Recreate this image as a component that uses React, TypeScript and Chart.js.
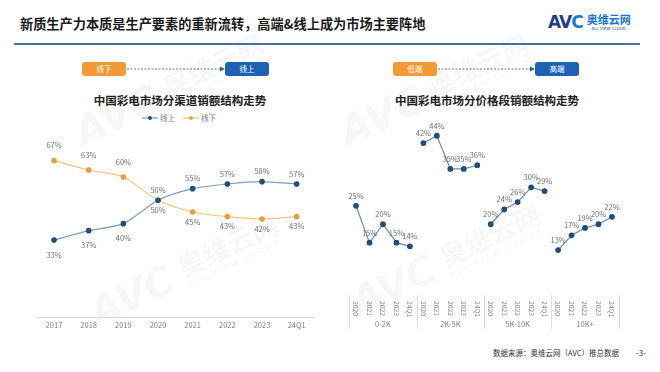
import React, { useEffect, useRef } from "react";
import { Chart, registerables } from "chart.js";
Chart.register(...registerables);

const FONT = '"Noto Sans CJK SC", "Microsoft YaHei", sans-serif';

// Left chart: channel structure
const channelYears = ["2017", "2018", "2019", "2020", "2021", "2022", "2023", "24Q1"];
const onlineShare = [33, 37, 40, 50, 55, 57, 58, 57];
const offlineShare = [67, 63, 60, 50, 45, 43, 42, 43];

// Right chart: price segment structure
const priceYears = ["2020", "2021", "2022", "2023", "24Q1"];
const priceSegments = ["0-2K", "2K-5K", "5K-10K", "10K+"];
const seg0to2k = [25, 15, 20, 15, 14];
const seg2kto5k = [42, 44, 35, 35, 36];
const seg5kto10k = [20, 24, 26, 30, 29];
const seg10kPlus = [13, 17, 19, 20, 22];
const segValues = [seg0to2k, seg2kto5k, seg5kto10k, seg10kPlus];

const LINE_BLUE = "#7f9dbd";
const DOT_BLUE = "#1f4e79";
const LINE_ORANGE = "#f3c57a";
const DOT_ORANGE = "#e2a23a";

function Watermark({ left, top }: { left: number; top: number }) {
  const c = "rgba(0,0,0,0.05)";
  return (
    <div
      style={{
        position: "absolute",
        left,
        top,
        transform: "rotate(-25deg)",
        transformOrigin: "left bottom",
        whiteSpace: "nowrap",
        color: c,
        fontFamily: FONT,
        pointerEvents: "none",
        display: "flex",
        alignItems: "flex-end",
      }}
    >
      <span style={{ fontSize: 40, fontWeight: 900, fontStyle: "italic", fontFamily: "DejaVu Sans", lineHeight: "40px" }}>
        AVC
      </span>
      <span style={{ display: "inline-block", marginLeft: 10 }}>
        <div style={{ fontSize: 27, fontWeight: 700, lineHeight: "30px" }}>奥维云网</div>
        <div style={{ fontSize: 8, fontWeight: 700, letterSpacing: 2, fontFamily: "DejaVu Sans", lineHeight: "10px" }}>
          ALL VIEW CLOUD
        </div>
      </span>
    </div>
  );
}

function Box({ left, text, color }: { left: number; text: string; color: string }) {
  return (
    <div
      style={{
        position: "absolute",
        left,
        top: 62,
        width: 44,
        height: 14,
        background: color,
        borderRadius: 3,
        color: "#fff",
        fontSize: 7.5,
        lineHeight: "14px",
        textAlign: "center",
        fontFamily: FONT,
      }}
    >
      {text}
    </div>
  );
}

function Arrow({ left, width }: { left: number; width: number }) {
  return (
    <svg style={{ position: "absolute", left, top: 64 }} width={width} height={10}>
      <line x1={1} y1={5} x2={width - 4} y2={5} stroke="#5a7a9c" strokeWidth={1} strokeDasharray="2 1.5" />
      <polygon points={`${width - 5},2.5 ${width},5 ${width - 5},7.5`} fill="#3d5f86" />
    </svg>
  );
}

export default function App() {
  const leftRef = useRef<HTMLCanvasElement>(null);
  const rightRef = useRef<HTMLCanvasElement>(null);

  useEffect(() => {
    document.body.style.margin = "0";

    const leftLabels = {
      id: "leftLabels",
      afterDatasetsDraw(chart: any) {
        const ctx = chart.ctx;
        ctx.save();
        ctx.font = `7.5px ${FONT}`;
        ctx.fillStyle = "#707070";
        ctx.textAlign = "center";
        ctx.textBaseline = "middle";
        chart.data.datasets.forEach((ds: any, di: number) => {
          const meta = chart.getDatasetMeta(di);
          const other = chart.data.datasets[1 - di].data;
          meta.data.forEach((pt: any, i: number) => {
            const v = ds.data[i];
            const o = other[i];
            const above = v > o || (v === o && di === 0);
            const off = i < 3 ? 15 : 10;
            ctx.fillText(`${v}%`, pt.x, pt.y + (above ? -off : off));
          });
        });
        ctx.restore();
      },
    };

    const left = new Chart(leftRef.current!, {
      type: "line",
      data: {
        labels: channelYears,
        datasets: [
          {
            label: "线上",
            data: onlineShare,
            borderColor: LINE_BLUE,
            backgroundColor: DOT_BLUE,
            pointBackgroundColor: DOT_BLUE,
            pointBorderColor: DOT_BLUE,
            pointRadius: 2.2,
            borderWidth: 1.2,
            tension: 0.25,
            clip: false as any,
          },
          {
            label: "线下",
            data: offlineShare,
            borderColor: LINE_ORANGE,
            backgroundColor: DOT_ORANGE,
            pointBackgroundColor: DOT_ORANGE,
            pointBorderColor: DOT_ORANGE,
            pointRadius: 2.2,
            borderWidth: 1.2,
            tension: 0.25,
            clip: false as any,
          },
        ],
      },
      options: {
        animation: false,
        responsive: false,
        maintainAspectRatio: false,
        layout: { padding: { left: 6.7, right: 11, top: 10.3, bottom: 0 } },
        plugins: { legend: { display: false }, tooltip: { enabled: false } },
        scales: {
          x: {
            offset: true,
            grid: { display: false, drawTicks: false },
            border: { display: true, color: "#d9d9d9", width: 1 },
            ticks: { color: "#808080", font: { size: 7.5, family: FONT }, padding: 4, maxRotation: 0, autoSkip: false },
            afterFit: (s: any) => {
              s.height = 23;
            },
          },
          y: { display: false, min: 0, max: 80 },
        },
      },
      plugins: [leftLabels],
    });

    const total = priceSegments.length * priceYears.length;
    const rightLabels: string[] = [];
    priceSegments.forEach((seg) => priceYears.forEach((y) => rightLabels.push(`${seg} ${y}`)));
    const rightDatasets = segValues.map((vals, si) => {
      const data: (number | null)[] = new Array(total).fill(null);
      vals.forEach((v, k) => {
        data[si * priceYears.length + k] = v;
      });
      return {
        label: priceSegments[si],
        data,
        borderColor: "#6f8cab",
        backgroundColor: DOT_BLUE,
        pointBackgroundColor: DOT_BLUE,
        pointBorderColor: DOT_BLUE,
        pointRadius: 2.3,
        borderWidth: 1.2,
        tension: 0,
        spanGaps: false,
        clip: false as any,
      };
    });

    const rightDecor = {
      id: "rightDecor",
      afterDatasetsDraw(chart: any) {
        const ctx = chart.ctx;
        const xs = chart.scales.x;
        const bottom = chart.chartArea.bottom;
        ctx.save();
        ctx.font = `7.5px ${FONT}`;
        ctx.fillStyle = "#707070";
        ctx.textAlign = "center";
        ctx.textBaseline = "middle";
        chart.data.datasets.forEach((ds: any, di: number) => {
          const meta = chart.getDatasetMeta(di);
          meta.data.forEach((pt: any, i: number) => {
            const v = ds.data[i];
            if (v == null) return;
            ctx.fillText(`${v}%`, pt.x, pt.y - 10);
          });
        });
        ctx.font = `6.8px ${FONT}`;
        ctx.fillStyle = "#888";
        ctx.textAlign = "left";
        ctx.textBaseline = "middle";
        for (let i = 0; i < total; i++) {
          const x = xs.getPixelForValue(i);
          ctx.save();
          ctx.translate(x, bottom + 3);
          ctx.rotate(Math.PI / 2);
          ctx.fillText(priceYears[i % priceYears.length], 0, 0);
          ctx.restore();
        }
        const step = xs.getPixelForValue(1) - xs.getPixelForValue(0);
        ctx.strokeStyle = "#dcdcdc";
        ctx.lineWidth = 1;
        for (let g = 0; g <= priceSegments.length; g++) {
          const x = Math.round(xs.getPixelForValue(g * priceYears.length) - step / 2) + 0.5;
          ctx.beginPath();
          ctx.moveTo(x, bottom - 3);
          ctx.lineTo(x, bottom + 31);
          ctx.stroke();
        }
        ctx.font = `7.5px ${FONT}`;
        ctx.fillStyle = "#808080";
        ctx.textAlign = "center";
        priceSegments.forEach((seg, g) => {
          const a = xs.getPixelForValue(g * priceYears.length);
          const b = xs.getPixelForValue(g * priceYears.length + priceYears.length - 1);
          ctx.fillText(seg, (a + b) / 2, bottom + 26);
        });
        ctx.restore();
      },
    };

    const right = new Chart(rightRef.current!, {
      type: "line",
      data: { labels: rightLabels, datasets: rightDatasets as any },
      options: {
        animation: false,
        responsive: false,
        maintainAspectRatio: false,
        layout: { padding: { left: 14.3, right: 16.3, top: 8.6, bottom: 0 } },
        plugins: { legend: { display: false }, tooltip: { enabled: false } },
        scales: {
          x: {
            offset: true,
            grid: { display: false, drawTicks: false },
            border: { display: false },
            ticks: { display: false },
            afterFit: (s: any) => {
              s.height = 42;
            },
          },
          y: { display: false, min: 0, max: 50 },
        },
      },
      plugins: [rightDecor],
    });

    return () => {
      left.destroy();
      right.destroy();
    };
  }, []);

  return (
    <div
      style={{
        position: "fixed",
        left: 0,
        top: 0,
        width: 660,
        height: 372,
        background: "#fff",
        overflow: "hidden",
        fontFamily: FONT,
      }}
    >
      <Watermark left={85} top={112} />
      <Watermark left={100} top={292} />
      <Watermark left={350} top={112} />
      <Watermark left={362} top={282} />

      <div
        style={{
          position: "absolute",
          left: 20,
          top: 14,
          fontSize: 13.2,
          fontWeight: 700,
          color: "#1a1a1a",
          lineHeight: "20px",
          whiteSpace: "nowrap",
        }}
      >
        新质生产力本质是生产要素的重新流转，高端&amp;线上成为市场主要阵地
      </div>
      <div style={{ position: "absolute", left: 548, top: 12, whiteSpace: "nowrap" }}>
        <span
          style={{
            fontFamily: "DejaVu Sans",
            fontWeight: 900,
            fontSize: 17,
            letterSpacing: -1,
            color: "#1d3e8c",
            verticalAlign: "top",
            lineHeight: "20px",
          }}
        >
          AV<span style={{ color: "#1a76d2" }}>C</span>
        </span>
        <span style={{ display: "inline-block", marginLeft: 4, verticalAlign: "top" }}>
          <div style={{ fontSize: 11, fontWeight: 700, color: "#1a76d2", lineHeight: "14px" }}>奥维云网</div>
          <div style={{ fontSize: 4, color: "#1d3e8c", lineHeight: "5px", textAlign: "center", fontFamily: "DejaVu Sans" }}>
            ALL VIEW CLOUD
          </div>
        </span>
      </div>
      <div style={{ position: "absolute", left: 14, top: 43, width: 626, height: 2, background: "#3f72a8" }} />

      {/* Left panel */}
      <Box left={82} text="线下" color="#f29a33" />
      <Arrow left={126} width={99} />
      <Box left={225} text="线上" color="#1d62b5" />
      <div
        style={{
          position: "absolute",
          left: 30,
          width: 300,
          top: 92,
          textAlign: "center",
          fontSize: 11.5,
          fontWeight: 700,
          color: "#222",
          lineHeight: "16px",
        }}
      >
        中国彩电市场分渠道销额结构走势
      </div>
      <div
        style={{
          position: "absolute",
          left: 142,
          top: 112,
          fontSize: 7.5,
          color: "#777",
          lineHeight: "11px",
          whiteSpace: "nowrap",
          display: "flex",
          alignItems: "center",
        }}
      >
        <svg width={16} height={8}>
          <line x1={0} y1={4} x2={16} y2={4} stroke={LINE_BLUE} strokeWidth={1.2} />
          <circle cx={8} cy={4} r={2} fill={DOT_BLUE} />
        </svg>
        <span style={{ marginLeft: 2, marginRight: 8 }}>线上</span>
        <svg width={16} height={8}>
          <line x1={0} y1={4} x2={16} y2={4} stroke={LINE_ORANGE} strokeWidth={1.2} />
          <circle cx={8} cy={4} r={2} fill={DOT_ORANGE} />
        </svg>
        <span style={{ marginLeft: 2 }}>线下</span>
      </div>
      <canvas
        ref={leftRef}
        width={295}
        height={220}
        style={{ position: "absolute", left: 30, top: 120, width: 295, height: 220 }}
      />

      {/* Right panel */}
      <Box left={393} text="低端" color="#f29a33" />
      <Arrow left={437} width={98} />
      <Box left={535} text="高端" color="#1d62b5" />
      <div
        style={{
          position: "absolute",
          left: 337,
          width: 300,
          top: 92,
          textAlign: "center",
          fontSize: 11.5,
          fontWeight: 700,
          color: "#222",
          lineHeight: "16px",
        }}
      >
        中国彩电市场分价格段销额结构走势
      </div>
      <canvas
        ref={rightRef}
        width={300}
        height={235}
        style={{ position: "absolute", left: 335, top: 105, width: 300, height: 235 }}
      />

      <div
        style={{
          position: "absolute",
          left: 493,
          top: 347,
          fontSize: 7.5,
          color: "#333",
          lineHeight: "12px",
          whiteSpace: "nowrap",
        }}
      >
        数据来源：奥维云网（AVC）推总数据
      </div>
      <div style={{ position: "absolute", left: 636, top: 347, fontSize: 8, color: "#333", lineHeight: "12px" }}>-3-</div>
    </div>
  );
}
